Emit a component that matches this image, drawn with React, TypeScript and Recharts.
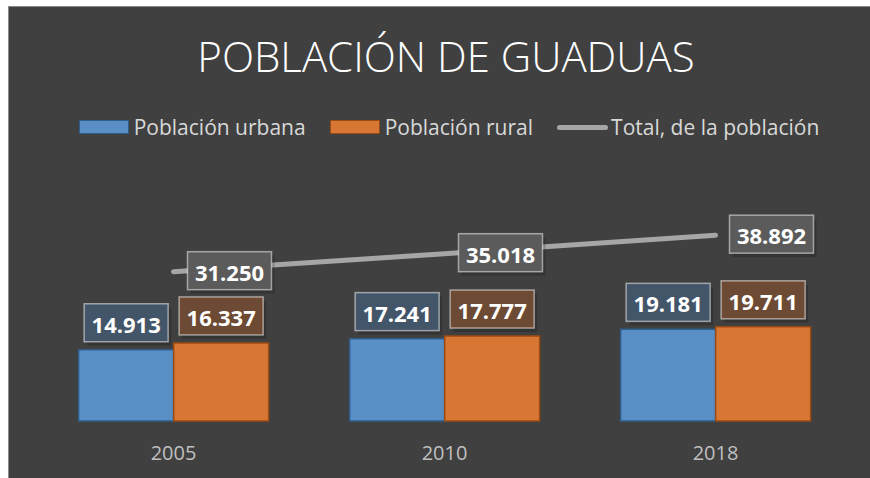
import React from "react";
import {
  ComposedChart,
  Bar,
  Line,
  XAxis,
  YAxis,
  Legend,
  LabelList,
} from "recharts";

const years = ["2005", "2010", "2018"];
const urbana = [14913, 17241, 19181];
const rural = [16337, 17777, 19711];
const total = [31250, 35018, 38892];
const seriesOrder = ["urbana", "rural", "total"];

const data = years.map((year, i) => ({
  year,
  urbana: urbana[i],
  rural: rural[i],
  total: total[i],
}));

const FONT = "'Open Sans', 'Noto Sans', sans-serif";
const BOX_W = 84;
const BOX_H = 38;

// 14913 -> "14.913"
const fmt = (v: number) => String(v).replace(/\B(?=(\d{3})+(?!\d))/g, ".");

const LabelBox = ({ left, top, fill, value }: any) => (
  <g>
    <rect
      x={left + 3}
      y={top + 4}
      width={BOX_W}
      height={BOX_H}
      fill="rgba(0,0,0,0.18)"
    />
    <rect
      x={left}
      y={top}
      width={BOX_W}
      height={BOX_H}
      fill={fill}
      stroke="rgba(255,255,255,0.5)"
      strokeWidth={1.5}
    />
    <text
      x={left + BOX_W / 2}
      y={top + BOX_H / 2 + 1}
      textAnchor="middle"
      dominantBaseline="central"
      fill="#ffffff"
      fontSize={22}
      fontWeight={700}
      fontFamily={FONT}
    >
      {fmt(value)}
    </text>
  </g>
);

const barLabel = (fill: string) => (props: any) => {
  const { x, y, width, value } = props;
  return (
    <LabelBox
      left={x + width / 2 - BOX_W / 2}
      top={y - 8 - BOX_H}
      fill={fill}
      value={value}
    />
  );
};

const lineLabel = (props: any) => {
  const { x, y, value } = props;
  return (
    <LabelBox left={x + 14} top={y - BOX_H / 2 - 1} fill="#5b5b5b" value={value} />
  );
};

const YearTick = ({ x, y, payload }: any) => (
  <text
    x={x}
    y={y + 31}
    textAnchor="middle"
    fill="#bfbfbf"
    fontSize={20}
    fontFamily={FONT}
  >
    {payload.value}
  </text>
);

const swatchBorder: Record<string, string> = {
  urbana: "#2d5e8c",
  rural: "#9a4a13",
};

const LegendContent = ({ payload }: any) => {
  const items = [...(payload || [])].sort(
    (a: any, b: any) =>
      seriesOrder.indexOf(a.dataKey) - seriesOrder.indexOf(b.dataKey)
  );
  return (
    <div
      style={{
        display: "flex",
        justifyContent: "center",
        alignItems: "center",
        fontFamily: FONT,
        fontSize: 21,
        color: "#d9d9d9",
        paddingLeft: 28,
      }}
    >
      {items.map((entry: any, i: number) => (
        <div
          key={entry.dataKey}
          style={{
            display: "flex",
            alignItems: "center",
            marginRight: i < items.length - 1 ? 24 : 0,
          }}
        >
          {entry.type === "line" ? (
            <div
              style={{
                width: 51,
                height: 5,
                borderRadius: 3,
                background: entry.color,
                marginRight: 3,
              }}
            />
          ) : (
            <div
              style={{
                width: 48,
                height: 12,
                background: entry.color,
                border: `1.5px solid ${swatchBorder[entry.dataKey]}`,
                marginRight: 5,
              }}
            />
          )}
          <span>{entry.value}</span>
        </div>
      ))}
    </div>
  );
};

export default function App() {
  return (
    <div
      style={{
        position: "absolute",
        left: 0,
        top: 0,
        width: 870,
        height: 478,
        background: "#ffffff",
        overflow: "hidden",
      }}
    >
      <div
        style={{
          position: "absolute",
          left: 8,
          top: 6,
          width: 900,
          height: 500,
          background: "#404040",
          border: "1px solid #8a8a8a",
        }}
      />
      <svg
        width={870}
        height={100}
        style={{ position: "absolute", left: 0, top: 0 }}
      >
        <text
          x={446}
          y={72}
          textAnchor="middle"
          fill="#ffffff"
          fontSize={42}
          fontWeight={300}
          fontFamily={FONT}
        >
          POBLACIÓN DE GUADUAS
        </text>
      </svg>
      <div style={{ position: "absolute", left: 0, top: 0 }}>
        <ComposedChart
          width={870}
          height={478}
          data={data}
          margin={{ top: 206, right: 19, bottom: 17, left: 38 }}
          barCategoryGap="15%"
          barGap={0}
        >
          <XAxis
            dataKey="year"
            axisLine={false}
            tickLine={false}
            height={40}
            tick={<YearTick />}
          />
          <YAxis hide domain={[0, 45000]} />
          <Legend
            verticalAlign="middle"
            align="center"
            layout="horizontal"
            content={<LegendContent />}
            wrapperStyle={{ top: 113, left: 0, width: 870 }}
          />
          <Bar
            dataKey="urbana"
            name="Población urbana"
            fill="#5a8fc6"
            stroke="#2d5e8c"
            strokeWidth={1.5}
            isAnimationActive={false}
          >
            <LabelList dataKey="urbana" content={barLabel("#435569")} />
          </Bar>
          <Bar
            dataKey="rural"
            name="Población rural"
            fill="#d87633"
            stroke="#9a4a13"
            strokeWidth={1.5}
            isAnimationActive={false}
          >
            <LabelList dataKey="rural" content={barLabel("#6d4a33")} />
          </Bar>
          <Line
            dataKey="total"
            name="Total, de la población"
            stroke="#a6a6a6"
            strokeWidth={5}
            strokeLinecap="round"
            dot={false}
            activeDot={false}
            isAnimationActive={false}
          >
            <LabelList dataKey="total" content={lineLabel} />
          </Line>
        </ComposedChart>
      </div>
    </div>
  );
}
